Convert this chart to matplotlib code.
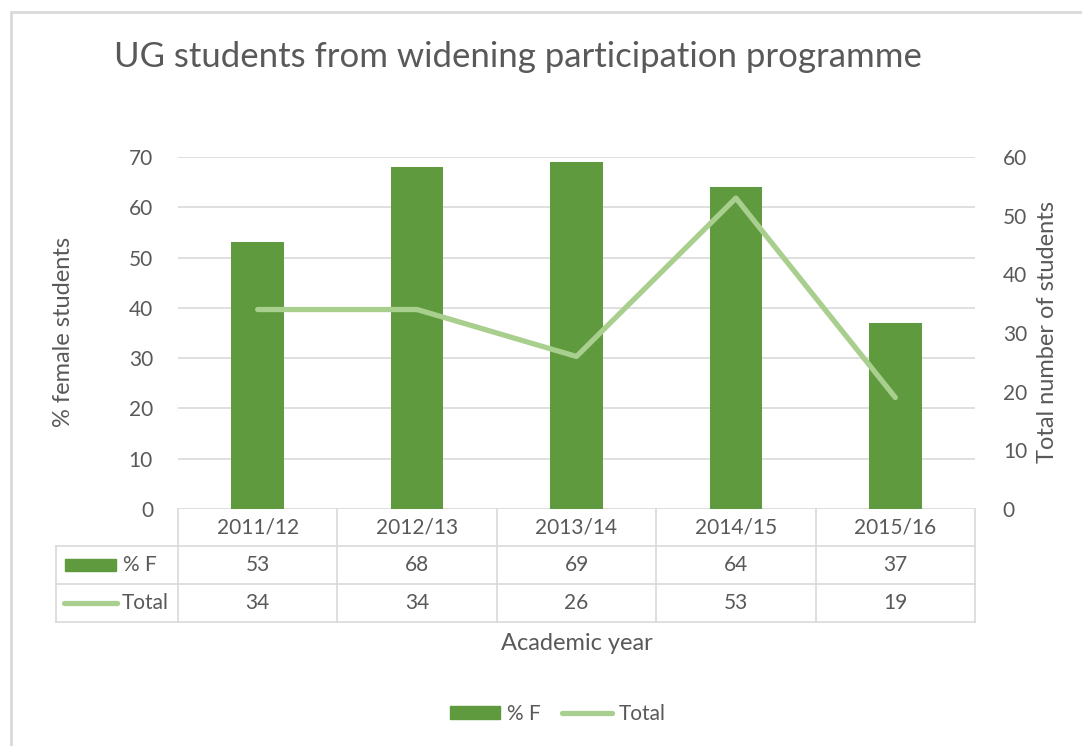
import numpy as np
import matplotlib
matplotlib.use('Agg')
import matplotlib.pyplot as plt
from matplotlib.lines import Line2D
from matplotlib.patches import Rectangle

# Data
years = ['2011/12', '2012/13', '2013/14', '2014/15', '2015/16']
pct_female = [53, 68, 69, 64, 37]
total_students = [34, 34, 26, 53, 19]

W, H = 1082, 746
bar_color = '#5F9A3E'
line_color = '#A9CF8E'
text_color = '#595959'
grid_color = '#D9D9D9'

plt.rcParams['font.family'] = ['Lato', 'DejaVu Sans']

def fx(x):
    return x / W

def fy(y):
    return 1 - y / H

fig = plt.figure(figsize=(W / 100, H / 100), dpi=100)

# plot area in pixels
x0, x1 = 178, 975
ytop, ybot = 157, 509
ax = fig.add_axes([fx(x0), fy(ybot), (x1 - x0) / W, (ybot - ytop) / H])
ax2 = ax.twinx()

xs = np.arange(len(years))
ax.bar(xs, pct_female, width=0.33, color=bar_color, zorder=3)
ax2.plot(xs, total_students, color=line_color, linewidth=3.8, solid_capstyle='round', zorder=4)

ax.set_xlim(-0.5, len(years) - 0.5)
ax.set_ylim(0, 70)
ax2.set_ylim(0, 60)
ax.set_yticks(range(0, 71, 10))
ax2.set_yticks(range(0, 61, 10))
ax.set_xticks([])
ax.yaxis.grid(True, color=grid_color, linewidth=1.2, zorder=0)
ax.set_axisbelow(True)
for a in (ax, ax2):
    for s in a.spines.values():
        s.set_visible(False)
    a.tick_params(axis='y', length=0, labelsize=15, labelcolor=text_color)
ax.tick_params(axis='y', pad=18)
ax2.tick_params(axis='y', pad=20)

# axis titles
fig.text(fx(63), fy(332), '% female students', rotation=90, ha='center', va='center',
         fontsize=17, color=text_color)
fig.text(fx(1048), fy(332), 'Total number of students', rotation=90, ha='center', va='center',
         fontsize=17, color=text_color)
fig.text(fx(577), fy(644), 'Academic year', ha='center', va='center', fontsize=17, color=text_color)

# title
fig.text(fx(518), fy(57), 'UG students from widening participation programme', ha='center',
         va='center', fontsize=25, color=text_color)

# data table
tl, r1, r2, r3 = 56, 546, 584, 622
cw = (x1 - x0) / len(years)
lw_t = 1.2
def hline(y, xa, xb):
    fig.add_artist(Line2D([fx(xa), fx(xb)], [fy(y), fy(y)], color=grid_color, lw=lw_t))
def vline(x, ya, yb):
    fig.add_artist(Line2D([fx(x), fx(x)], [fy(ya), fy(yb)], color=grid_color, lw=lw_t))

hline(r1, tl, x1)
hline(r2, tl, x1)
hline(r3, tl, x1)
vline(tl, r1, r3)
for i in range(len(years) + 1):
    vline(x0 + i * cw, ybot, r3)

for i, yr in enumerate(years):
    cx = x0 + (i + 0.5) * cw
    fig.text(fx(cx), fy((ybot + r1) / 2), yr, ha='center', va='center', fontsize=15, color=text_color)
    fig.text(fx(cx), fy((r1 + r2) / 2), str(pct_female[i]), ha='center', va='center',
             fontsize=15, color=text_color)
    fig.text(fx(cx), fy((r2 + r3) / 2), str(total_students[i]), ha='center', va='center',
             fontsize=15, color=text_color)

# row keys
fig.add_artist(Rectangle((fx(65), fy(571)), (116 - 65) / W, 12 / H, color=bar_color,
                         transform=fig.transFigure))
fig.text(fx(123), fy(565), '% F', ha='left', va='center', fontsize=15, color=text_color)
fig.add_artist(Line2D([fx(64), fx(117)], [fy(603), fy(603)], color=line_color, lw=3.8,
                      solid_capstyle='round'))
fig.text(fx(122), fy(603), 'Total', ha='left', va='center', fontsize=15, color=text_color)

# legend
handles = [Rectangle((0, 0), 1, 1, color=bar_color),
           Line2D([0], [0], color=line_color, lw=3.8, solid_capstyle='round')]
fig.legend(handles, ['% F', 'Total'], loc='center', bbox_to_anchor=(fx(558), fy(714)),
           ncol=2, frameon=False, fontsize=15, labelcolor=text_color, handlelength=2.4,
           handleheight=0.6, handletextpad=0.35, columnspacing=1.0)

# outer chart border
fig.add_artist(Rectangle((fx(11), fy(760)), (1090 - 11) / W, (760 - 12) / H, fill=False,
                         edgecolor='#D9D9D9', lw=2, transform=fig.transFigure))

fig.savefig('out.png', dpi=100)
